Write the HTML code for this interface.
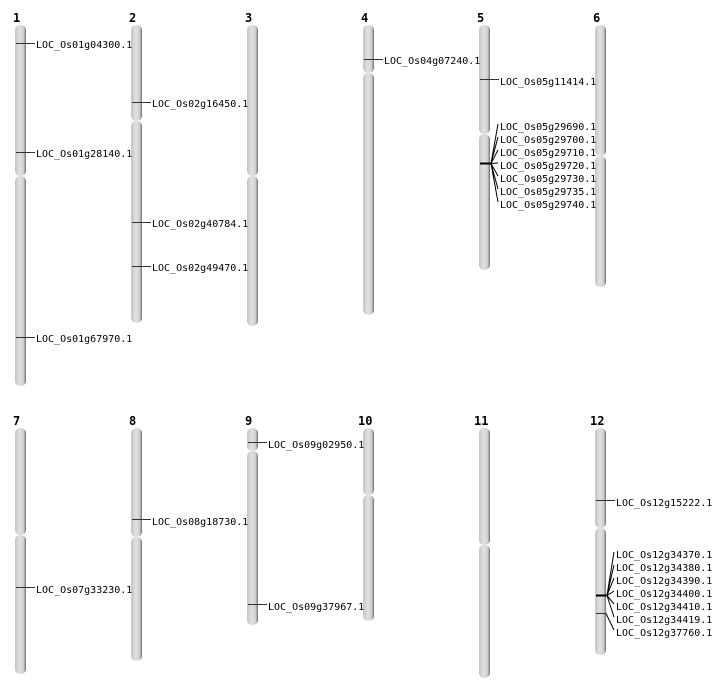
<!DOCTYPE html>
<html><head><meta charset="utf-8"><style>
html,body{margin:0;padding:0;background:#fff;}
svg{display:block;}
text{font-family:"DejaVu Sans Mono","Liberation Mono",monospace;font-size:10px;fill:#000;}
.n{font-family:"DejaVu Sans Mono","Liberation Mono",monospace;font-weight:bold;font-size:12px;}
</style></head><body>
<svg width="712" height="700" viewBox="0 0 712 700" xmlns="http://www.w3.org/2000/svg">
<defs>
<linearGradient id="g" x1="0" x2="1" y1="0" y2="0">
<stop offset="0" stop-color="#c4c4c4"/><stop offset="0.45" stop-color="#e2e2e2"/><stop offset="0.8" stop-color="#cccccc"/><stop offset="1" stop-color="#6a6a6a"/>
</linearGradient>
</defs>
<g fill="url(#g)">
<!-- top row -->
<rect x="15" y="25" width="11" height="151" rx="5"/><rect x="15" y="176" width="11" height="210" rx="5"/>
<rect x="131" y="25" width="11" height="96" rx="5"/><rect x="131" y="121" width="11" height="202" rx="5"/>
<rect x="247" y="25" width="11" height="151" rx="5"/><rect x="247" y="176" width="11" height="150" rx="5"/>
<rect x="363" y="25" width="11" height="48" rx="5"/><rect x="363" y="73" width="11" height="242" rx="5"/>
<rect x="479" y="25" width="11" height="109" rx="5"/><rect x="479" y="134" width="11" height="136" rx="5"/>
<rect x="595" y="25" width="11" height="131" rx="5"/><rect x="595" y="156" width="11" height="131" rx="5"/>
<!-- bottom row -->
<rect x="15" y="428" width="11" height="107" rx="5"/><rect x="15" y="535" width="11" height="139" rx="5"/>
<rect x="131" y="428" width="11" height="109" rx="5"/><rect x="131" y="537" width="11" height="124" rx="5"/>
<rect x="247" y="428" width="11" height="23" rx="5"/><rect x="247" y="451" width="11" height="174" rx="5"/>
<rect x="363" y="428" width="11" height="67" rx="5"/><rect x="363" y="495" width="11" height="126" rx="5"/>
<rect x="479" y="428" width="11" height="117" rx="5"/><rect x="479" y="545" width="11" height="133" rx="5"/>
<rect x="595" y="428" width="11" height="100" rx="5"/><rect x="595" y="528" width="11" height="127" rx="5"/>
</g>
<g class="n">
<text class="n" x="13" y="22">1</text><text class="n" x="129" y="22">2</text><text class="n" x="245" y="22">3</text>
<text class="n" x="361" y="22">4</text><text class="n" x="477" y="22">5</text><text class="n" x="593" y="22">6</text>
<text class="n" x="13" y="425">7</text><text class="n" x="129" y="425">8</text><text class="n" x="245" y="425">9</text>
<text class="n" x="358" y="425">10</text><text class="n" x="474" y="425">11</text><text class="n" x="590" y="425">12</text>
</g>
<g stroke="#333" stroke-width="1">
<line x1="16" y1="43.5" x2="35" y2="43.5"/><line x1="16" y1="152.5" x2="35" y2="152.5"/><line x1="16" y1="337.5" x2="35" y2="337.5"/>
<line x1="132" y1="102.5" x2="151" y2="102.5"/><line x1="132" y1="222.5" x2="151" y2="222.5"/><line x1="132" y1="266.5" x2="151" y2="266.5"/>
<line x1="364" y1="59.5" x2="383" y2="59.5"/>
<line x1="480" y1="79.5" x2="499" y2="79.5"/>
<line x1="16" y1="587.5" x2="35" y2="587.5"/>
<line x1="132" y1="519.5" x2="151" y2="519.5"/>
<line x1="248" y1="442.5" x2="267" y2="442.5"/><line x1="248" y1="604.5" x2="267" y2="604.5"/>
<line x1="596" y1="500.5" x2="615" y2="500.5"/>
<line x1="596" y1="613.5" x2="606" y2="613.5"/>
</g>
<g stroke="#000" stroke-width="1" fill="none">
<line x1="480" y1="163.5" x2="491" y2="163.5" stroke-width="2"/>
<path d="M491 163.5 L498 124 M491 163.5 L498 137 M491 163.5 L498 150 M491 163.5 L498 163 M491 163.5 L498 176 M491 163.5 L498 189 M491 163.5 L498 202"/>
<line x1="596" y1="595.5" x2="607" y2="595.5" stroke-width="2"/>
<path d="M607 595.5 L614 552 M607 595.5 L614 565 M607 595.5 L614 578 M607 595.5 L614 591 M607 595.5 L614 604 M607 595.5 L614 617 M606 613.5 L614 630"/>
</g>
<text x="36" y="48">LOC_Os01g04300.1</text>
<text x="36" y="157">LOC_Os01g28140.1</text>
<text x="36" y="342">LOC_Os01g67970.1</text>
<text x="152" y="107">LOC_Os02g16450.1</text>
<text x="152" y="227">LOC_Os02g40784.1</text>
<text x="152" y="271">LOC_Os02g49470.1</text>
<text x="384" y="64">LOC_Os04g07240.1</text>
<text x="500" y="85">LOC_Os05g11414.1</text>
<text x="500" y="130">LOC_Os05g29690.1</text>
<text x="500" y="143">LOC_Os05g29700.1</text>
<text x="500" y="156">LOC_Os05g29710.1</text>
<text x="500" y="169">LOC_Os05g29720.1</text>
<text x="500" y="182">LOC_Os05g29730.1</text>
<text x="500" y="195">LOC_Os05g29735.1</text>
<text x="500" y="208">LOC_Os05g29740.1</text>
<text x="36" y="593">LOC_Os07g33230.1</text>
<text x="152" y="525">LOC_Os08g18730.1</text>
<text x="268" y="448">LOC_Os09g02950.1</text>
<text x="268" y="610">LOC_Os09g37967.1</text>
<text x="616" y="506">LOC_Os12g15222.1</text>
<text x="616" y="558">LOC_Os12g34370.1</text>
<text x="616" y="571">LOC_Os12g34380.1</text>
<text x="616" y="584">LOC_Os12g34390.1</text>
<text x="616" y="597">LOC_Os12g34400.1</text>
<text x="616" y="610">LOC_Os12g34410.1</text>
<text x="616" y="623">LOC_Os12g34419.1</text>
<text x="616" y="636">LOC_Os12g37760.1</text>
</svg>
</body></html>
